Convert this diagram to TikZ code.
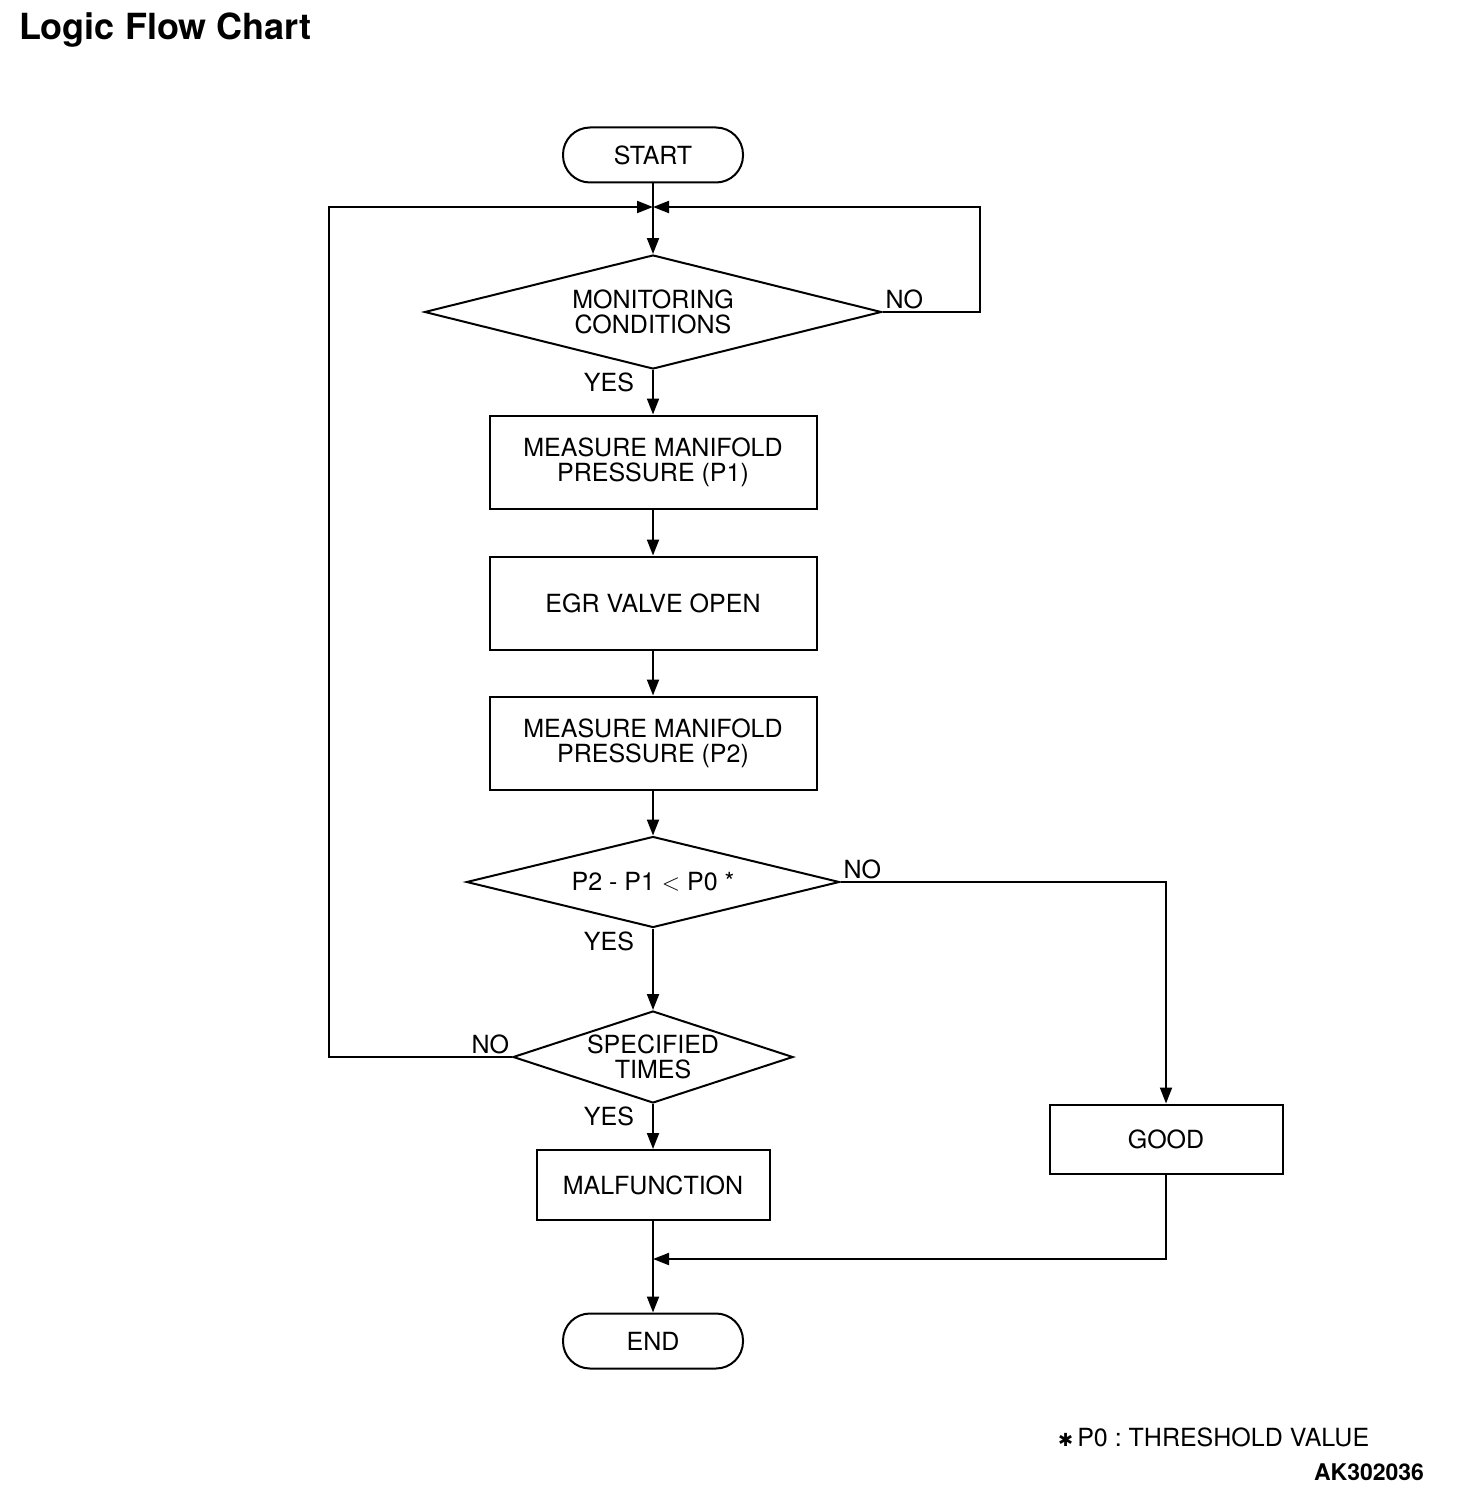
\documentclass[tikz,border=0pt]{standalone}
\usepackage{fontspec}
\setmainfont{TeX Gyre Heros}
\newfontfamily\symfont{DejaVu Sans}
\usetikzlibrary{shapes.geometric,arrows.meta}
\frenchspacing
\begin{document}
\begin{tikzpicture}[x=0.5pt,y=-0.5pt,line width=1pt,
  >={Triangle[length=8pt,width=6pt]},
  font=\fontsize{12.5}{12.5}\selectfont,
  term/.style={draw,rounded corners=13.5pt,minimum width=90pt,minimum height=27.5pt,inner sep=0pt},
  box/.style={draw,rectangle,minimum width=163.5pt,minimum height=46.5pt,align=center,inner sep=0pt},
  decision/.style={draw,diamond,inner sep=0pt,align=center},
  lbl/.style={inner sep=1pt}]
\useasboundingbox (0,0) rectangle (1456,1492);
% title
\node[anchor=base west,inner sep=0pt,font=\fontsize{18}{20}\selectfont\bfseries] (title) at (18,40) {Logic Flow Chart};
% nodes
\node[term] (start) at (653,155) {START};
\coordinate (j) at (653,207);
\coordinate (jl) at (329,207);
\coordinate (jr) at (980,207);
\node[decision,aspect=4,minimum width=228.5pt,minimum height=57pt] (mon) at (653,312) {MONITORING\\CONDITIONS};
\node[box] (p1) at (653,462) {MEASURE MANIFOLD\\PRESSURE (P1)};
\node[box] (egr) at (653,603) {EGR VALVE OPEN};
\node[box] (p2) at (653,743) {MEASURE MANIFOLD\\PRESSURE (P2)};
\node[decision,aspect=4,minimum width=186.5pt,minimum height=45.5pt] (cmp) at (653,882) {P2 - P1 $<$ P0 *};
\node[decision,aspect=3,minimum width=140pt,minimum height=46pt] (times) at (653,1057) {SPECIFIED\\TIMES};
\node[box,minimum width=116.5pt,minimum height=35pt] (malf) at (653,1185) {MALFUNCTION};
\node[box,minimum width=116.5pt,minimum height=34.5pt] (good) at (1166,1139) {GOOD};
\coordinate (m) at (653,1259);
\node[term] (end) at (653,1341) {END};
% labels
\node[lbl,anchor=south west] (no1) at (mon.east) {NO};
\node[lbl,anchor=north east] (yes1) at ([xshift=-8pt]mon.south) {YES};
\node[lbl,anchor=south west] (no2) at (cmp.east) {NO};
\node[lbl,anchor=north east] (yes2) at ([xshift=-8pt]cmp.south) {YES};
\node[lbl,anchor=south east] (no3) at (times.west) {NO};
\node[lbl,anchor=north east] (yes3) at ([xshift=-8pt]times.south) {YES};
% connectors
\draw[->] (start) -- (mon);
\draw[->] (mon.east) -| (jr) -- (j);
\draw[->] (times.west) -| (jl) -- (j);
\draw[->] (mon) -- (p1);
\draw[->] (p1) -- (egr);
\draw[->] (egr) -- (p2);
\draw[->] (p2) -- (cmp);
\draw[->] (cmp) -- (times);
\draw[->] (cmp.east) -| (good.north);
\draw[->] (times) -- (malf);
\draw[->] (good.south) |- (m);
\draw[->] (malf) -- (end);
% footnote
\node[anchor=base west,inner sep=0pt] (note) at (1057,1446) {{\symfont\fontsize{9}{9}\selectfont ✱}\,P0 : THRESHOLD VALUE};
\node[anchor=base east,inner sep=0pt,font=\fontsize{11.5}{11.5}\selectfont\bfseries] (code) at (1425,1480) {AK302036};
\end{tikzpicture}
\end{document}
